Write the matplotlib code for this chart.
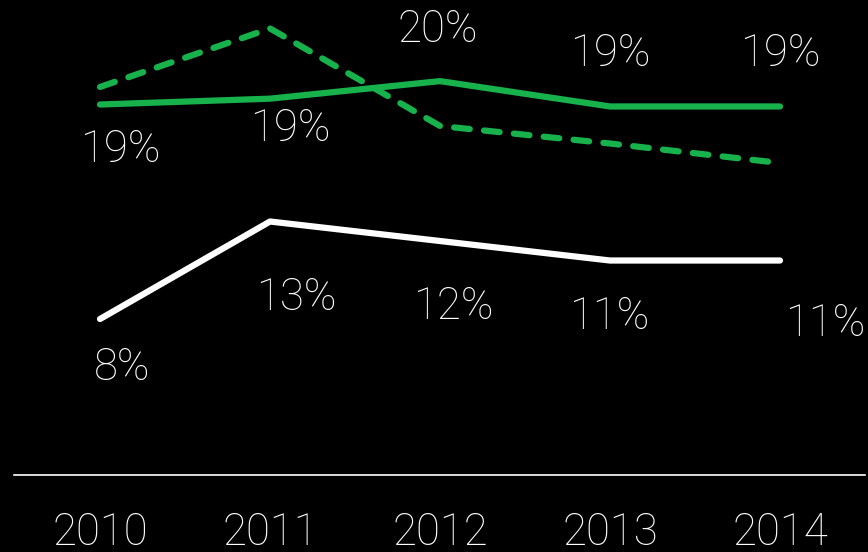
import matplotlib
matplotlib.use("Agg")
import matplotlib.pyplot as plt

years = ["2010", "2011", "2012", "2013", "2014"]
solid_green = [19.0, 19.3, 20.2, 18.9, 18.9]
dashed_green = [19.9, 22.9, 17.9, 17.0, 16.0]
white_line = [8.0, 13.0, 12.0, 11.0, 11.0]

GREEN = "#17b24b"
FONT = dict(family=["Roboto", "DejaVu Sans"], weight="light")

# label offsets in pixels (dx, dy) from each point, text placed by its baseline
green_offsets = [(20, -57), (20, -42), (-2, 39), (0, 40), (0, 40)]
white_offsets = [(22, -61), (26, -88), (13, -78), (-1, -68), (45, -75)]

fig = plt.figure(figsize=(8.68, 5.52), dpi=100, facecolor="black")
ax = fig.add_axes([14 / 868, 77 / 552, 851 / 868, 475 / 552])
ax.set_facecolor("black")

x = list(range(len(years)))
ax.plot(x, dashed_green, color=GREEN, lw=4.5, ls=(0, (2.5, 2.3)),
        dash_capstyle="round", solid_capstyle="round")
ax.plot(x, solid_green, color=GREEN, lw=4.5, solid_capstyle="round",
        solid_joinstyle="round")
ax.plot(x, white_line, color="white", lw=4.5, solid_capstyle="round",
        solid_joinstyle="round")

for xi, v, off in zip(x, solid_green, green_offsets):
    ax.annotate(f"{v:.0f}%", (xi, v), xytext=off, textcoords="offset pixels",
                ha="center", va="baseline", color="white", fontsize=31.5, **FONT)
for xi, v, off in zip(x, white_line, white_offsets):
    ax.annotate(f"{v:.0f}%", (xi, v), xytext=off, textcoords="offset pixels",
                ha="center", va="baseline", color="white", fontsize=31.5,
                annotation_clip=False, **FONT)

ax.set_xlim(-0.506, 4.5)
ax.set_ylim(0, 24.36)
for side in ("top", "left", "right"):
    ax.spines[side].set_visible(False)
ax.spines["bottom"].set_color("white")
ax.spines["bottom"].set_linewidth(1.2)
ax.set_yticks([])
ax.set_xticks(x)
ax.set_xticklabels(years, color="white", fontsize=31.5, **FONT)
ax.tick_params(axis="x", length=0, pad=26)

fig.savefig("out.png", dpi=100, facecolor="black")
